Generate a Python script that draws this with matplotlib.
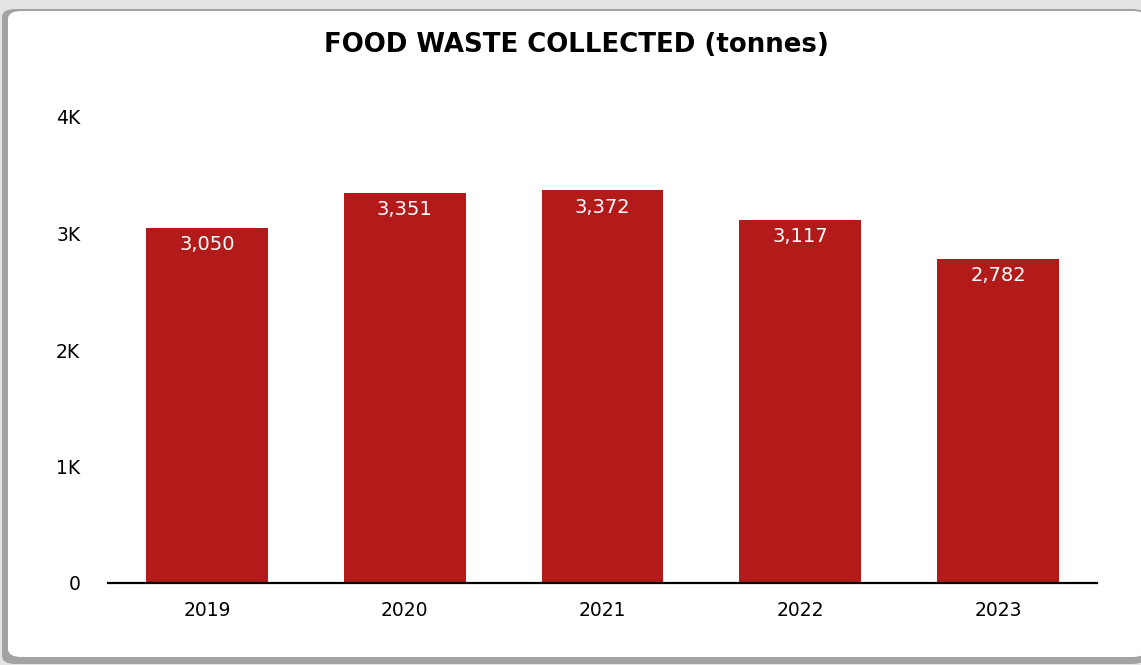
import matplotlib
matplotlib.use("Agg")
import matplotlib.pyplot as plt
from matplotlib.patches import FancyBboxPatch

years = ["2019", "2020", "2021", "2022", "2023"]
tonnes = [3050, 3351, 3372, 3117, 2782]
yticks = [0, 1000, 2000, 3000, 4000]
ytick_labels = ["0", "1K", "2K", "3K", "4K"]

W, H = 1141, 665
fig = plt.figure(figsize=(W / 100, H / 100), dpi=100)
fig.patch.set_facecolor("#e3e3e3")

def px(x0, y0, x1, y1):
    # rectangle in pixel coords measured from the top-left corner
    return (x0 / W, 1 - y1 / H), (x1 - x0) / W, (y1 - y0) / H

# card with shadow
for (x0, y0, x1, y1, c) in [(2, 9, W + 5, 664, "#a3a3a3"),
                            (8, 11, W + 5, 657, "white")]:
    xy, w, h = px(x0, y0, x1, y1)
    fig.patches.append(FancyBboxPatch(xy, w, h, boxstyle="round,pad=0,rounding_size=0.012",
                                      transform=fig.transFigure, facecolor=c,
                                      edgecolor="none", zorder=-10))

ax = fig.add_axes([108 / W, 82 / H, (1097 - 108) / W, (583 - 117) / H])
ax.set_facecolor("none")
ax.set_zorder(1)

x = range(len(years))
bars = ax.bar(x, tonnes, width=0.616, color="#b31b1b", zorder=2)
for xi, v in zip(x, tonnes):
    ax.annotate(f"{v:,}", (xi, v), xytext=(0, -17), textcoords="offset pixels",
                ha="center", va="center", color="white", fontsize=14,
                family="DejaVu Sans")

ax.set_xlim(-0.5, len(years) - 0.5)
ax.set_ylim(0, 4000)
ax.set_xticks(list(x))
ax.set_xticklabels(years, fontsize=13.5, family="DejaVu Sans")
ax.set_yticks(yticks)
ax.set_yticklabels(ytick_labels, fontsize=13.5, family="DejaVu Sans")
ax.tick_params(axis="x", length=0, pad=13)
ax.tick_params(axis="y", length=0, pad=20)
for s in ["top", "right", "left"]:
    ax.spines[s].set_visible(False)
ax.spines["bottom"].set_linewidth(1.6)
ax.spines["bottom"].set_zorder(3)

fig.text(576 / W, 1 - 45 / H, "FOOD WASTE COLLECTED (tonnes)", ha="center", va="center",
         fontsize=18.7, fontweight="bold", family="DejaVu Sans")

fig.savefig("out.png", dpi=100)
